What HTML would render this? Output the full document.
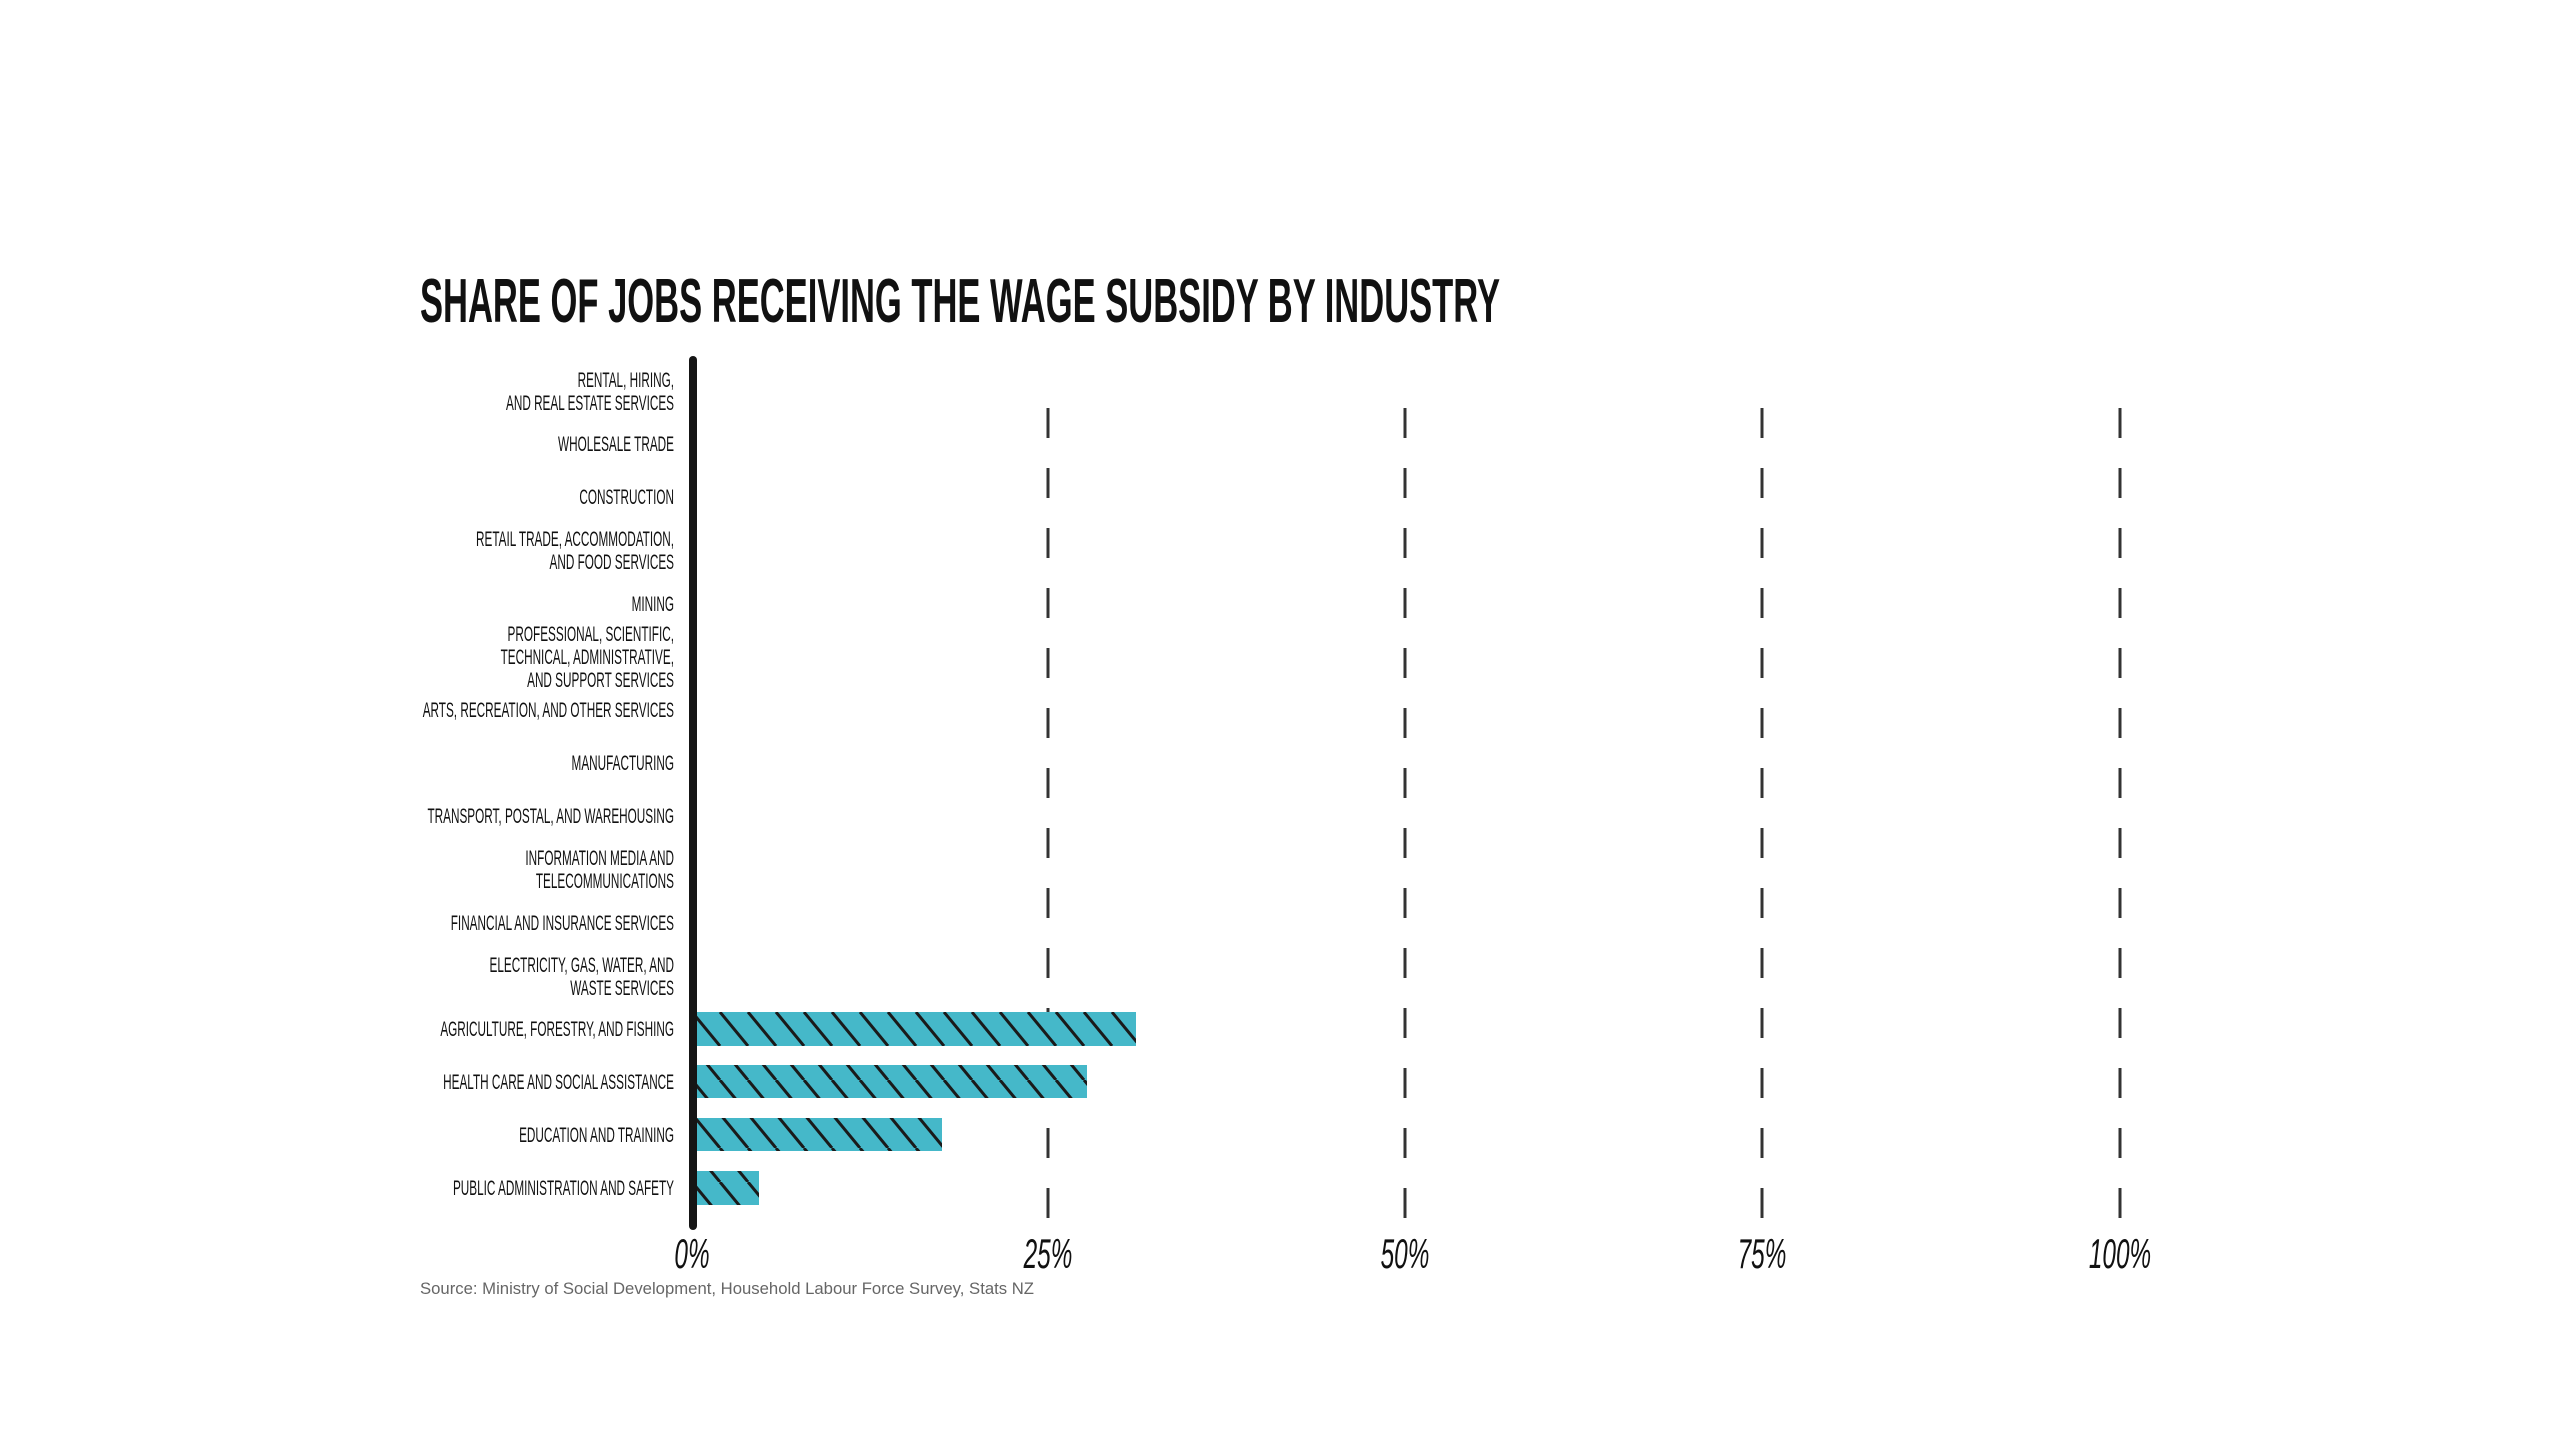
<!DOCTYPE html>
<html><head><meta charset="utf-8"><style>
html,body{margin:0;padding:0;background:#fff;}
svg{display:block;}
.lbl{font-family:"Liberation Sans Narrow","Liberation Sans",sans-serif;font-size:21px;fill:#111;text-anchor:end;}
</style></head><body>
<svg width="2560" height="1440" viewBox="0 0 2560 1440" xmlns="http://www.w3.org/2000/svg">
<defs>
<pattern id="hatch" patternUnits="userSpaceOnUse" width="28" height="34" patternTransform="translate(692,1012)">
<rect width="28" height="34" fill="#45b8c9"/>
<line x1="0" y1="0" x2="28" y2="34" stroke="#1a1a1a" stroke-width="3"/>
<line x1="-28" y1="0" x2="0" y2="34" stroke="#1a1a1a" stroke-width="3"/>
<line x1="28" y1="0" x2="56" y2="34" stroke="#1a1a1a" stroke-width="3"/>
</pattern>
<g id="col" fill="#333">
<rect x="-1.5" y="408" width="3" height="30"/><rect x="-1.5" y="468" width="3" height="30"/><rect x="-1.5" y="528" width="3" height="30"/><rect x="-1.5" y="588" width="3" height="30"/><rect x="-1.5" y="648" width="3" height="30"/><rect x="-1.5" y="708" width="3" height="30"/><rect x="-1.5" y="768" width="3" height="30"/><rect x="-1.5" y="828" width="3" height="30"/><rect x="-1.5" y="888" width="3" height="30"/><rect x="-1.5" y="948" width="3" height="30"/><rect x="-1.5" y="1008" width="3" height="30"/><rect x="-1.5" y="1068" width="3" height="30"/><rect x="-1.5" y="1128" width="3" height="30"/><rect x="-1.5" y="1188" width="3" height="30"/>
</g>
</defs>
<text x="420" y="322" font-family="Liberation Sans Narrow, Liberation Sans, sans-serif" font-weight="bold" font-size="62" fill="#111" textLength="1080" lengthAdjust="spacingAndGlyphs">SHARE OF JOBS RECEIVING THE WAGE SUBSIDY BY INDUSTRY</text>

<use href="#col" x="1048"/>
<use href="#col" x="1405"/>
<use href="#col" x="1762"/>
<use href="#col" x="2120"/>

<rect x="694" y="1012" width="442" height="34" fill="url(#hatch)"/>
<rect x="694" y="1065" width="393" height="33" fill="url(#hatch)"/>
<rect x="694" y="1118" width="248" height="33" fill="url(#hatch)"/>
<rect x="694" y="1171" width="65" height="34" fill="url(#hatch)"/>

<rect x="689" y="356" width="8" height="874" rx="4" fill="#151515"/>

<g class="lbl" transform="translate(674,0) scale(0.56,1)">
<text x="0" y="387">RENTAL, HIRING,</text><text x="0" y="410">AND REAL ESTATE SERVICES</text>
<text x="0" y="451">WHOLESALE TRADE</text>
<text x="0" y="504">CONSTRUCTION</text>
<text x="0" y="546">RETAIL TRADE, ACCOMMODATION,</text><text x="0" y="569">AND FOOD SERVICES</text>
<text x="0" y="611">MINING</text>
<text x="0" y="641">PROFESSIONAL, SCIENTIFIC,</text><text x="0" y="664">TECHNICAL, ADMINISTRATIVE,</text><text x="0" y="687">AND SUPPORT SERVICES</text>
<text x="0" y="717">ARTS, RECREATION, AND OTHER SERVICES</text>
<text x="0" y="770">MANUFACTURING</text>
<text x="0" y="823">TRANSPORT, POSTAL, AND WAREHOUSING</text>
<text x="0" y="865">INFORMATION MEDIA AND</text><text x="0" y="888">TELECOMMUNICATIONS</text>
<text x="0" y="930">FINANCIAL AND INSURANCE SERVICES</text>
<text x="0" y="972">ELECTRICITY, GAS, WATER, AND</text><text x="0" y="995">WASTE SERVICES</text>
<text x="0" y="1036">AGRICULTURE, FORESTRY, AND FISHING</text>
<text x="0" y="1089">HEALTH CARE AND SOCIAL ASSISTANCE</text>
<text x="0" y="1142">EDUCATION AND TRAINING</text>
<text x="0" y="1195">PUBLIC ADMINISTRATION AND SAFETY</text>
</g>

<g font-family="Liberation Sans Narrow, Liberation Sans, sans-serif" font-size="42" font-style="italic" fill="#111" text-anchor="middle">
<text transform="translate(692,1268) scale(0.58,1)">0%</text>
<text transform="translate(1048,1268) scale(0.58,1)">25%</text>
<text transform="translate(1405,1268) scale(0.58,1)">50%</text>
<text transform="translate(1762,1268) scale(0.58,1)">75%</text>
<text transform="translate(2120,1268) scale(0.58,1)">100%</text>
</g>
<text x="420" y="1294" font-family="Liberation Sans, sans-serif" font-size="17" fill="#666" textLength="614" lengthAdjust="spacingAndGlyphs">Source: Ministry of Social Development, Household Labour Force Survey, Stats NZ</text>
</svg>
</body></html>
